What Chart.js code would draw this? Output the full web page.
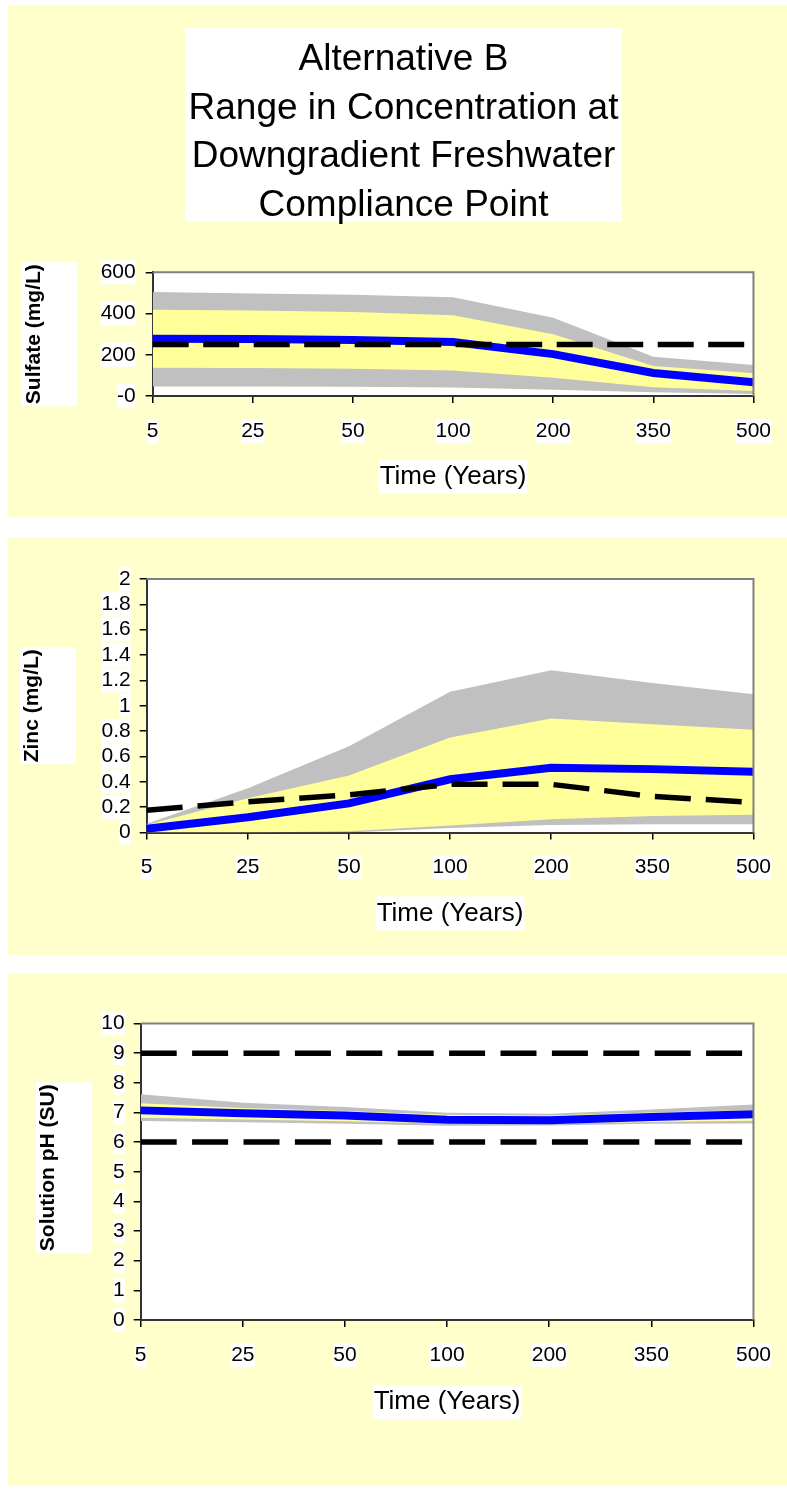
<!DOCTYPE html>
<html>
<head>
<meta charset="utf-8">
<script src="https://cdn.jsdelivr.net/npm/chart.js@4/dist/chart.umd.min.js"></script>
<style>
  body { margin: 0; background: #ffffff; width: 787px; height: 1491px; position: relative; }
  .panel { position: absolute; left: 8px; width: 779px; background: #FFFFCC; }
  canvas { display: block; }
</style>
</head>
<body>
<div class="panel" style="top:5px;height:512px"><canvas id="sulfateChart" width="779" height="512"></canvas></div>
<div class="panel" style="top:537px;height:418px"><canvas id="zincChart" width="779" height="418"></canvas></div>
<div class="panel" style="top:974px;height:512px"><canvas id="phChart" width="779" height="512"></canvas></div>
<script>
const years = ['5', '25', '50', '100', '200', '350', '500'];

// Sulfate (mg/L)
const sulfateMax  = [504, 497, 491, 479, 380, 190, 150];
const sulfateHigh = [418, 415, 408, 392, 300, 145, 110];
const sulfateMean = [278, 276, 272, 262, 203, 112, 67];
const sulfateLow  = [137, 136, 132, 124, 88, 43, 24];
const sulfateMin  = [46, 46, 45, 41, 30, 18, 10];
const sulfateStd  = [250, 250, 250, 250, 250, 250, 250];
const sulfateTicks = ['-0', '200', '400', '600'];

// Zinc (mg/L)
const zincMax  = [0.07, 0.35, 0.68, 1.11, 1.28, 1.18, 1.09];
const zincHigh = [0.06, 0.27, 0.45, 0.75, 0.90, 0.855, 0.81];
const zincMean = [0.03, 0.12, 0.23, 0.42, 0.51, 0.50, 0.48];
const zincLow  = [0, 0, 0.01, 0.055, 0.105, 0.13, 0.14];
const zincMin  = [0, 0, 0, 0.035, 0.06, 0.066, 0.066];
const zincStd  = [0.176, 0.242, 0.297, 0.38, 0.38, 0.285, 0.237];
const zincTicks = ['0', '0.2', '0.4', '0.6', '0.8', '1', '1.2', '1.4', '1.6', '1.8', '2'];

// Solution pH (SU)
const phMax  = [7.61, 7.33, 7.18, 6.99, 6.96, 7.10, 7.27];
const phHigh = [7.31, 7.15, 7.05, 6.92, 6.90, 7.00, 7.08];
const phMean = [7.07, 6.97, 6.90, 6.75, 6.74, 6.85, 6.94];
const phLow  = [6.82, 6.76, 6.70, 6.62, 6.62, 6.68, 6.72];
const phMin  = [6.71, 6.67, 6.62, 6.55, 6.56, 6.62, 6.63];
const phUpperStd = [9, 9, 9, 9, 9, 9, 9];
const phLowerStd = [6, 6, 6, 6, 6, 6, 6];
const phTicks = ['0', '1', '2', '3', '4', '5', '6', '7', '8', '9', '10'];

const FONT = '"Liberation Sans", Arial, sans-serif';

// white plot area, gray frame, and the boxed titles
const panelText = {
  id: 'panelText',
  beforeDraw(chart) {
    const a = chart.chartArea, ctx = chart.ctx;
    ctx.save();
    ctx.fillStyle = '#ffffff';
    ctx.fillRect(a.left, a.top, a.right - a.left, a.bottom - a.top);
    ctx.restore();
  },
  afterDraw(chart, args, opts) {
    const a = chart.chartArea, ctx = chart.ctx;
    ctx.save();
    ctx.strokeStyle = '#808080';
    ctx.lineWidth = 2;
    ctx.beginPath();
    ctx.moveTo(a.left, a.top);
    ctx.lineTo(a.right, a.top);
    ctx.lineTo(a.right, a.bottom);
    ctx.stroke();

    if (opts.title) {
      ctx.fillStyle = '#ffffff';
      ctx.fillRect(opts.titleX - opts.titleWidth / 2, opts.titleTop, opts.titleWidth, opts.titleHeight);
      ctx.font = '37px ' + FONT;
      ctx.fillStyle = '#000000';
      ctx.textAlign = 'center';
      ctx.textBaseline = 'alphabetic';
      opts.title.forEach((t, i) => ctx.fillText(t, opts.titleX, opts.titleBase + i * opts.titleStep));
    }

    // x axis title
    ctx.font = '26px ' + FONT;
    const xw = ctx.measureText(opts.xTitle).width;
    const cx = (a.left + a.right) / 2, cy = a.bottom + opts.xTitleOffset;
    ctx.fillStyle = '#ffffff';
    ctx.fillRect(cx - xw / 2 - 1, cy - 17, xw + 2, 34);
    ctx.fillStyle = '#000000';
    ctx.textAlign = 'center';
    ctx.textBaseline = 'middle';
    ctx.fillText(opts.xTitle, cx, cy);

    // y axis title
    ctx.font = 'bold 21px ' + FONT;
    const yw = ctx.measureText(opts.yTitle).width;
    const my = (a.top + a.bottom) / 2 + (opts.yTitleShift || 0);
    ctx.fillStyle = '#ffffff';
    ctx.fillRect(opts.yBoxLeft, my - yw / 2 - 2, 56, yw + 4);
    ctx.translate(opts.yTitleX, my);
    ctx.rotate(-Math.PI / 2);
    ctx.fillStyle = '#000000';
    ctx.textAlign = 'center';
    ctx.textBaseline = 'alphabetic';
    ctx.fillText(opts.yTitle, 0, 0);
    ctx.restore();
  }
};

function line(data, color, width, dash) {
  return {
    data: data,
    borderColor: color,
    borderWidth: width,
    borderDash: dash || [],
    pointRadius: 0,
    fill: false,
    tension: 0
  };
}

function band(data, color) {
  return {
    data: data,
    borderColor: 'rgba(0,0,0,0)',
    borderWidth: 0,
    backgroundColor: color,
    pointRadius: 0,
    fill: '+1',
    tension: 0
  };
}

function edge(data) {
  return { data: data, borderWidth: 0, pointRadius: 0, fill: false };
}

function makeChart(id, datasets, yOpts, pad, textOpts) {
  return new Chart(document.getElementById(id), {
    type: 'line',
    data: { labels: years, datasets: datasets },
    options: {
      responsive: false,
      animation: false,
      layout: { padding: pad },
      plugins: {
        legend: { display: false },
        tooltip: { enabled: false },
        title: { display: false },
        panelText: textOpts
      },
      scales: {
        x: {
          type: 'category',
          offset: false,
          afterFit: function(scale) { scale.height = 60; },
          border: { display: true, color: '#333333', width: 2 },
          grid: { drawOnChartArea: false, drawTicks: true, tickLength: 7, color: '#000000', lineWidth: 1.5 },
          ticks: {
            color: '#000000',
            font: { family: FONT, size: 21, lineHeight: 1.15 },
            padding: 16,
            maxRotation: 0,
            autoSkip: false,
            showLabelBackdrop: true,
            backdropColor: '#ffffff',
            backdropPadding: 0
          }
        },
        y: {
          min: yOpts.min,
          max: yOpts.max,
          afterFit: function(scale) { scale.width = 100; },
          border: { display: true, color: '#333333', width: 2 },
          grid: { drawOnChartArea: false, drawTicks: true, tickLength: 7, color: '#000000', lineWidth: 1.5 },
          ticks: {
            stepSize: yOpts.step,
            autoSkip: false,
            color: '#000000',
            font: { family: FONT, size: 21, lineHeight: 1.15 },
            padding: yOpts.labelPad,
            showLabelBackdrop: true,
            backdropColor: '#ffffff',
            backdropPadding: 0,
            callback: function(value, index) { return yOpts.labels[index]; }
          }
        }
      }
    },
    plugins: [panelText]
  });
}

// datasets are drawn last-to-first, so the bands go at the end
makeChart('sulfateChart', [
  line(sulfateStd, '#000000', 5.5, [36, 14.5]),
  line(sulfateMean, '#0000FF', 8),
  band(sulfateHigh, '#FFFF99'),
  edge(sulfateLow),
  band(sulfateMax, '#C0C0C0'),
  edge(sulfateMin)
], { min: 0, max: 600, step: 200, labels: sulfateTicks, labelPad: 10 },
{ left: 44.7, right: 29.3, top: 267.3, bottom: 61 },
{
  title: ['Alternative B', 'Range in Concentration at', 'Downgradient Freshwater', 'Compliance Point'],
  titleX: 395.5, titleWidth: 437, titleTop: 23, titleHeight: 194, titleBase: 65, titleStep: 48.7,
  xTitle: 'Time (Years)', xTitleOffset: 81,
  yTitle: 'Sulfate (mg/L)', yBoxLeft: 13, yTitleX: 32
});

makeChart('zincChart', [
  line(zincStd, '#000000', 5.5, [36, 15]),
  line(zincMean, '#0000FF', 8),
  band(zincHigh, '#FFFF99'),
  edge(zincLow),
  band(zincMax, '#C0C0C0'),
  edge(zincMin)
], { min: 0, max: 2, step: 0.2, labels: zincTicks, labelPad: 9 },
{ left: 38.7, right: 29.7, top: 42, bottom: 62.5 },
{
  xTitle: 'Time (Years)', xTitleOffset: 81,
  yTitle: 'Zinc (mg/L)', yBoxLeft: 12, yTitleX: 30.3
});

makeChart('phChart', [
  line(phUpperStd, '#000000', 5.5, [36, 15.4]),
  line(phLowerStd, '#000000', 5.5, [36, 15.4]),
  line(phMean, '#0000FF', 8),
  band(phHigh, '#FFFF99'),
  edge(phLow),
  band(phMax, '#C0C0C0'),
  edge(phMin)
], { min: 0, max: 10, step: 1, labels: phTicks, labelPad: 9 },
{ left: 32.7, right: 28.7, top: 49.5, bottom: 106 },
{
  xTitle: 'Time (Years)', xTitleOffset: 82,
  yTitle: 'Solution pH (SU)', yBoxLeft: 28, yTitleX: 46, yTitleShift: -4
});
</script>
</body>
</html>
